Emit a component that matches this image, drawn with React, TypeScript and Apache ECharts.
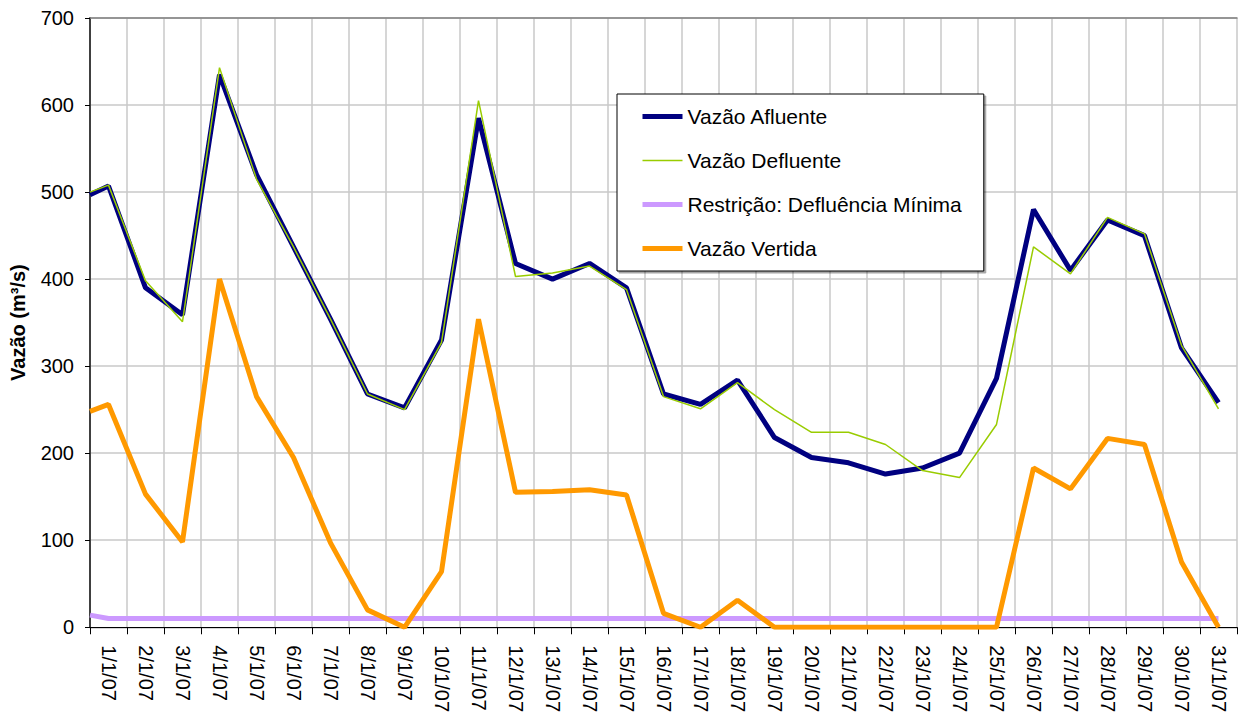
import React, { useEffect, useRef } from "react";
import * as echarts from "echarts";

const days = [
  "1/1/07", "2/1/07", "3/1/07", "4/1/07", "5/1/07", "6/1/07", "7/1/07", "8/1/07",
  "9/1/07", "10/1/07", "11/1/07", "12/1/07", "13/1/07", "14/1/07", "15/1/07", "16/1/07",
  "17/1/07", "18/1/07", "19/1/07", "20/1/07", "21/1/07", "22/1/07", "23/1/07", "24/1/07",
  "25/1/07", "26/1/07", "27/1/07", "28/1/07", "29/1/07", "30/1/07", "31/1/07",
];

// value at the start of the period (left edge of the axis), then one value per day
const afluenteStart = 497;
const afluente = [507, 390, 359, 635, 520, 437, 354, 268, 252, 330, 585, 418, 400, 418, 390, 268, 256, 284, 218, 195, 189, 176, 183, 200, 286, 480, 410, 468, 450, 321, 258];

const defluenteStart = 500;
const defluente = [508, 398, 351, 643, 515, 437, 354, 268, 250, 327, 605, 403, 407, 415, 388, 265, 251, 281, 250, 224, 224, 210, 180, 172, 233, 437, 406, 471, 452, 324, 251];

const restricaoStart = 14;
const restricao = [10, 10, 10, 10, 10, 10, 10, 10, 10, 10, 10, 10, 10, 10, 10, 10, 10, 10, 10, 10, 10, 10, 10, 10, 10, 10, 10, 10, 10, 10, 10];

const vertidaStart = 248;
const vertida = [256, 153, 98, 400, 265, 195, 97, 20, 0, 64, 354, 155, 156, 158, 152, 16, 0, 31, 0, 0, 0, 0, 0, 0, 0, 183, 159, 217, 210, 75, 0];

const seriesNames = ["Vazão Afluente", "Vazão Defluente", "Restrição: Defluência Mínima", "Vazão Vertida"];
const seriesColors = ["#000080", "#99cc00", "#cc99ff", "#ff9900"];
const seriesWidths = [5, 1.5, 5, 5];

const yTicks = { min: 0, max: 700, interval: 100 };

function toPoints(start: number, values: number[]) {
  const pts: [number, number][] = [[0, start]];
  values.forEach((v, i) => pts.push([i + 0.5, v]));
  return pts;
}

const FONT = "Liberation Sans, Arial, sans-serif";

export default function App() {
  const ref = useRef<HTMLDivElement>(null);
  useEffect(() => {
    if (!ref.current) return;
    const chart = echarts.init(ref.current, null, { renderer: "svg" });
    const allData = [
      toPoints(afluenteStart, afluente),
      toPoints(defluenteStart, defluente),
      toPoints(restricaoStart, restricao),
      toPoints(vertidaStart, vertida),
    ];
    chart.setOption({
      animation: false,
      backgroundColor: "#ffffff",
      textStyle: { fontFamily: FONT },
      grid: { left: 90, right: 3, top: 18, bottom: 85, containLabel: false },
      legend: {
        orient: "vertical",
        left: 617,
        top: 94,
        padding: [12, 22, 12, 23],
        itemWidth: 40,
        itemHeight: 14,
        itemGap: 23,
        backgroundColor: "#ffffff",
        borderColor: "#000000",
        borderWidth: 1,
        shadowColor: "rgba(0,0,0,0.35)",
        shadowOffsetX: 2,
        shadowOffsetY: 2,
        shadowBlur: 0,
        itemStyle: { opacity: 0 },
        textStyle: { fontSize: 21, color: "#000", fontFamily: FONT },
        data: seriesNames.map((n, i) => ({
          name: n,
          lineStyle: { width: seriesWidths[i], color: seriesColors[i] },
        })),
      },
      xAxis: [
        {
          type: "category",
          data: days,
          boundaryGap: true,
          axisLine: { show: true, lineStyle: { color: "#000", width: 1 } },
          axisTick: { show: true, length: 7, lineStyle: { color: "#000" } },
          axisLabel: {
            rotate: -90,
            interval: 0,
            margin: 18,
            fontSize: 20,
            color: "#000",
            fontFamily: FONT,
          },
          splitLine: { show: true, lineStyle: { color: "#c8c8c8", width: 1.5 } },
        },
        {
          type: "value",
          min: 0,
          max: 31,
          position: "top",
          show: true,
          axisLine: { show: true, lineStyle: { color: "#808080", width: 1.5 } },
          axisTick: { show: false },
          axisLabel: { show: false },
          splitLine: { show: false },
        },
      ],
      yAxis: {
        type: "value",
        min: yTicks.min,
        max: yTicks.max,
        interval: yTicks.interval,
        name: "Vazão (m³/s)",
        nameLocation: "middle",
        nameGap: 62,
        nameTextStyle: { fontSize: 20, fontWeight: "bold", color: "#000", fontFamily: FONT },
        axisLine: { show: true, lineStyle: { color: "#404040", width: 2 } },
        axisTick: { show: true, length: 5, lineStyle: { color: "#000" } },
        axisLabel: { margin: 16, fontSize: 20, color: "#000", fontFamily: FONT },
        splitLine: { show: true, lineStyle: { color: "#c8c8c8", width: 1.5 } },
      },
      series: seriesNames.map((n, i) => ({
        name: n,
        type: "line",
        xAxisIndex: 1,
        symbol: "none",
        data: allData[i],
        lineStyle: { color: seriesColors[i], width: seriesWidths[i] },
        itemStyle: { color: seriesColors[i] },
      })),
    });
    return () => chart.dispose();
  }, []);
  return (
    <div
      ref={ref}
      style={{ position: "fixed", left: 0, top: 0, width: 1240, height: 715, background: "#fff" }}
    />
  );
}
